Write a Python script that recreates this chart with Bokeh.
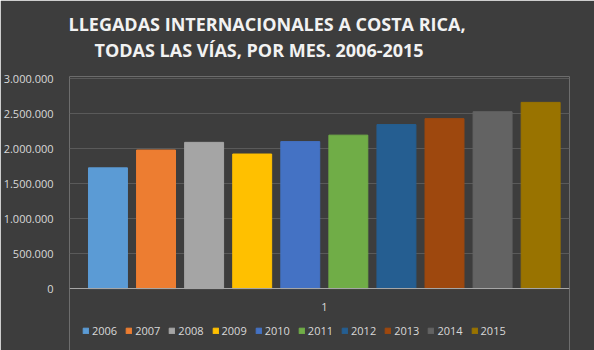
import numpy as np
from bokeh.plotting import figure
from bokeh.models import (Range1d, FixedTicker, Title, Legend, LegendItem,
                          ColumnDataSource)
from bokeh.embed import file_html
from bokeh.resources import INLINE

years = ["2006", "2007", "2008", "2009", "2010",
         "2011", "2012", "2013", "2014", "2015"]
arrivals = [1725261, 1979789, 2089174, 1922579, 2099829,
            2192059, 2343213, 2427941, 2526817, 2660257]
colors = ["#5B9BD5", "#ED7D31", "#A5A5A5", "#FFC000", "#4472C4",
          "#70AD47", "#255E91", "#9E480E", "#636363", "#997300"]
y_ticks = [0, 500000, 1000000, 1500000, 2000000, 2500000, 3000000]
y_tick_labels = ["0", "500.000", "1.000.000", "1.500.000", "2.000.000",
                 "2.500.000", "3.000.000"]
category_label = "1"
title_lines = ["LLEGADAS INTERNACIONALES  A COSTA RICA,",
               "TODAS LAS VÍAS, POR MES. 2006-2015"]

BG = "#3d3d3d"
TXT = "#d9d9d9"
FONT = "Open Sans"

xs = list(range(len(years)))
src = ColumnDataSource(dict(x=xs, top=arrivals, color=colors, year=years))

# frame spans y=76..350 px; 210 px per 3,000,000 with zero at y=288
p = figure(width=594, height=350, output_backend="svg", toolbar_location=None,
           x_range=Range1d(-0.80, 9.60), y_range=Range1d(-884286, 3030000),
           min_border_left=68, min_border_right=25, min_border_top=76,
           min_border_bottom=0, background_fill_color=BG,
           border_fill_color=BG, outline_line_color=None)

r = p.vbar(x="x", top="top", width=0.81, color="color", source=src)

# Titles: spacer first (closest to plot), then line 2, then line 1
spacer = Title(text=" ", text_font_size="1px", standoff=12)
t2 = Title(text=title_lines[1], align="left", offset=25,
           text_font=FONT, text_font_size="18px", text_font_style="bold",
           text_color="#f2f2f2", standoff=0)
t1 = Title(text=title_lines[0], align="left", offset=-1,
           text_font=FONT, text_font_size="18px", text_font_style="bold",
           text_color="#f2f2f2", standoff=0)
p.add_layout(spacer, "above")
p.add_layout(t2, "above")
p.add_layout(t1, "above")

# y axis
p.yaxis.ticker = FixedTicker(ticks=y_ticks)
p.yaxis.major_label_overrides = {t: l for t, l in zip(y_ticks, y_tick_labels)}
p.yaxis.axis_line_color = None
p.yaxis.major_tick_line_color = None
p.yaxis.minor_tick_line_color = None
p.yaxis.major_label_text_color = TXT
p.yaxis.major_label_text_font = FONT
p.yaxis.major_label_text_font_size = "11px"
p.yaxis.major_label_standoff = 10

# x axis (category axis drawn at value 0)
center = (len(years) - 1) / 2
p.xaxis.fixed_location = 0
p.xaxis.ticker = FixedTicker(ticks=[center])
p.xaxis.major_label_overrides = {center: category_label}
p.xaxis.axis_line_color = "#a6a6a6"
p.xaxis.axis_line_width = 1
p.xaxis.major_tick_line_color = None
p.xaxis.minor_tick_line_color = None
p.xaxis.major_label_text_color = TXT
p.xaxis.major_label_text_font = FONT
p.xaxis.major_label_text_font_size = "11px"
p.xaxis.major_label_standoff = 8

p.xgrid.grid_line_color = None
p.ygrid.grid_line_color = "#5a5a5a"
p.ygrid.grid_line_width = 1

items = [LegendItem(label=y, renderers=[r], index=i) for i, y in enumerate(years)]
legend = Legend(items=items, orientation="horizontal", location=(13, 12),
                background_fill_alpha=0, border_line_color=None,
                label_text_color=TXT, label_text_font=FONT,
                label_text_font_size="11px", glyph_width=7, glyph_height=7,
                label_standoff=3, spacing=8, padding=0, margin=0)
p.add_layout(legend, "center")

open("out.html", "w").write(file_html(p, INLINE))
